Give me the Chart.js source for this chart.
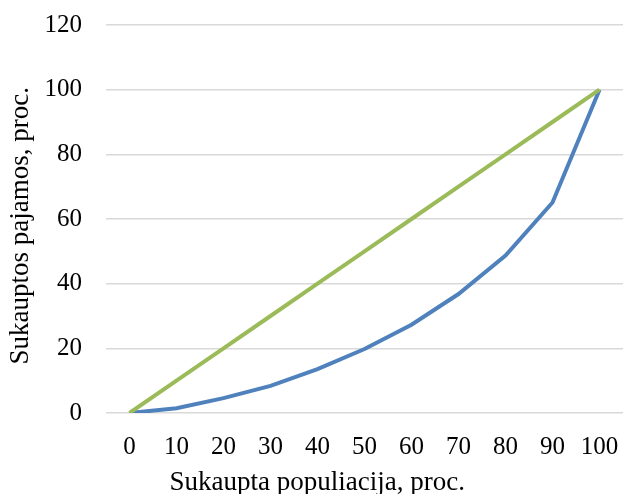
<!DOCTYPE html>
<html>
<head>
<meta charset="utf-8">
<script src="https://cdn.jsdelivr.net/npm/chart.js@4"></script>
<style>
  html, body { margin: 0; padding: 0; background: #fff; }
  #wrap { width: 623px; height: 494px; }
</style>
</head>
<body>
<div id="wrap"><canvas id="lorenz" width="623" height="494"></canvas></div>
<script>
// population share (x categories)
const populiacija = ['0', '10', '20', '30', '40', '50', '60', '70', '80', '90', '100'];
// Lorenz curve values
const pajamos = [0, 1.5, 4.6, 8.4, 13.6, 19.8, 27.3, 36.8, 48.7, 65.1, 100];
// equality line
const lygybe = [0, 10, 20, 30, 40, 50, 60, 70, 80, 90, 100];

const serif = "'Liberation Serif', 'Times New Roman', serif";

const ctx = document.getElementById('lorenz').getContext('2d');

const lorenzChart = new Chart(ctx, {
    type: 'line',
    data: {
        labels: populiacija,
        datasets: [
            {
                label: 'Lorenz',
                data: pajamos,
                borderColor: '#4f81bd',
                borderWidth: 4,
                pointRadius: 0,
                fill: false,
                order: 2
            },
            {
                label: 'Lygybė',
                data: lygybe,
                borderColor: '#9bbb59',
                borderWidth: 4,
                pointRadius: 0,
                fill: false,
                order: 1
            }
        ]
    },
    options: {
        responsive: false,
        animation: false,
        layout: { padding: 0 },
        plugins: {
            legend: { display: false },
            tooltip: { enabled: false }
        },
        scales: {
            x: {
                offset: true,
                // invisible tick marks give the label gap without extra side padding
                grid: { display: true, drawOnChartArea: false, drawTicks: true, tickLength: 19, color: 'transparent', tickColor: 'transparent' },
                border: { display: false },
                ticks: { color: '#000', font: { family: serif, size: 25 }, padding: 0, maxRotation: 0, autoSkip: false },
                // trailing spaces shift the title left, as in the original
                title: { display: true, text: 'Sukaupta populiacija, proc.'.padEnd(41, ' '), color: '#000', font: { family: serif, size: 27, lineHeight: 1.0 }, padding: { top: 7, bottom: -2 } }
            },
            y: {
                min: 0,
                max: 120,
                ticks: { stepSize: 20, color: '#000', font: { family: serif, size: 25 }, padding: 10 },
                grid: { color: '#d9d9d9', lineWidth: 1.5, drawTicks: true, tickLength: 14, tickColor: 'transparent' },
                border: { display: false },
                title: { display: true, text: 'Sukauptos pajamos, proc.  ', color: '#000', font: { family: serif, size: 27, lineHeight: 1.0 }, padding: { top: 7.5, bottom: 0 } }
            }
        }
    }
});
</script>
</body>
</html>
